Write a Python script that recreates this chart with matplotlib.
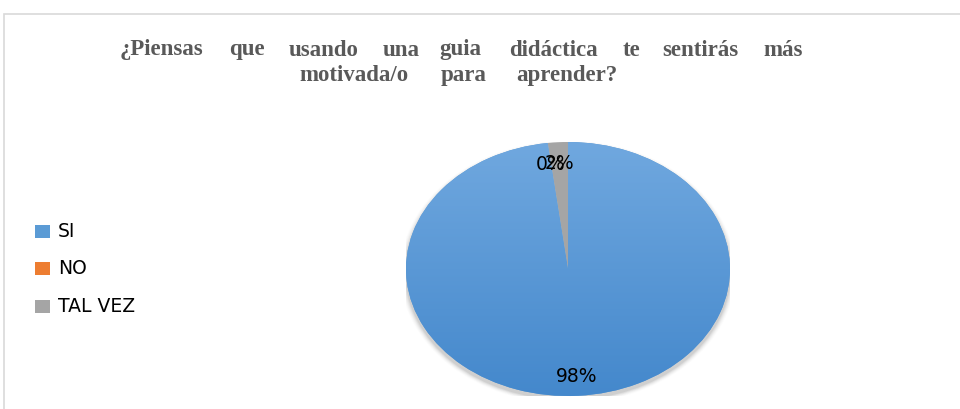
import matplotlib
matplotlib.use("Agg")
import matplotlib.pyplot as plt
import numpy as np
from matplotlib.patches import Rectangle, Ellipse

categories = ["SI", "NO", "TAL VEZ"]
values = [98, 0, 2]
colors = ["#5B9BD5", "#ED7D31", "#A5A5A5"]
title_lines = ["¿Piensas que usando una guia didáctica te sentirás más",
               "motivada/o para aprender?"]

W, H = 960, 410
fig = plt.figure(figsize=(W / 100, H / 100), dpi=100)
fig.patch.set_facecolor("white")

# chart border
fig.patches.append(Rectangle((4 / W, -0.01), 1.0, (H - 15) / H + 0.01, transform=fig.transFigure,
                             fill=False, edgecolor="#d9d9d9", linewidth=1.2))

cx, cy, rx, ry = 568, 270, 162, 127
ax = fig.add_axes([(cx - rx) / W, (H - cy - ry) / H, 2 * rx / W, 2 * ry / H])

# soft shadow
for i, a in enumerate(np.linspace(0.05, 0.012, 6)):
    s = 1.0 + 0.006 * (i + 1)
    ax.add_patch(Ellipse((0, -0.025), 2 * s, 2 * s, facecolor="black", alpha=a, edgecolor="none", zorder=0))

wedges, texts, autotexts = ax.pie(values, colors=colors, startangle=90, counterclock=False,
                                  autopct="%.0f%%", pctdistance=0.84,
                                  textprops=dict(fontsize=13.5, color="#000000", family="DejaVu Sans"),
                                  wedgeprops=dict(linewidth=0))
for w in wedges:
    w.set_zorder(1)
# gradient fill on SI wedge
grad = np.linspace(0, 1, 256).reshape(-1, 1)
top = np.array([0x70, 0xA8, 0xDF]) / 255
bot = np.array([0x44, 0x88, 0xCC]) / 255
img = top[None, None, :] * (1 - grad[:, :, None]) + bot[None, None, :] * grad[:, :, None]
im = ax.imshow(img, extent=[-1, 1, -1, 1], origin="upper", zorder=1.5, aspect="auto")
im.set_clip_path(wedges[0])
for t in autotexts:
    t.set_zorder(5)
ax.set_xlim(-1.0, 1.0)
ax.set_ylim(-1.0, 1.0)
ax.set_aspect("auto")
ax.axis("off")

# title: words spread to match the wide reference lettering
fs = 16.5
fig.canvas.draw()
renderer = fig.canvas.get_renderer()
title_center = 458
target_first = 683
layouts = []
for line in title_lines:
    words = line.split(" ")
    tmp = [fig.text(0, 0, w, fontsize=fs, fontweight="bold", family="Liberation Serif") for w in words]
    widths = [t.get_window_extent(renderer).width for t in tmp]
    sp = fig.text(0, 0, "a a", fontsize=fs, fontweight="bold", family="Liberation Serif")
    spa = fig.text(0, 0, "aa", fontsize=fs, fontweight="bold", family="Liberation Serif")
    space = sp.get_window_extent(renderer).width - spa.get_window_extent(renderer).width
    for t in tmp + [sp, spa]:
        t.remove()
    total = sum(widths) + space * (len(words) - 1)
    layouts.append((words, widths, space, total))

stretch = (target_first - layouts[0][1][0] / 2 - layouts[0][1][-1] / 2) / \
          (layouts[0][3] - layouts[0][1][0] / 2 - layouts[0][1][-1] / 2)
for (words, widths, space, total), ypix in zip(layouts, [50, 76]):
    x = -total / 2
    for w, wd in zip(words, widths):
        c = (x + wd / 2) * stretch
        fig.text((title_center + c) / W, 1 - ypix / H, w, ha="center", va="center", fontsize=fs,
                 fontweight="bold", family="Liberation Serif", color="#595959")
        x += wd + space

# legend
ys = [232, 269, 307]
for cat, col, y in zip(categories, colors, ys):
    fig.patches.append(Rectangle((35 / W, 1 - (y + 6.5) / H), 15 / W, 13 / H, transform=fig.transFigure,
                                 facecolor=col, edgecolor="none"))
    fig.text(58 / W, 1 - y / H, cat, ha="left", va="center", fontsize=13.5, family="DejaVu Sans", color="#000000")

fig.savefig("out.png", dpi=100)
